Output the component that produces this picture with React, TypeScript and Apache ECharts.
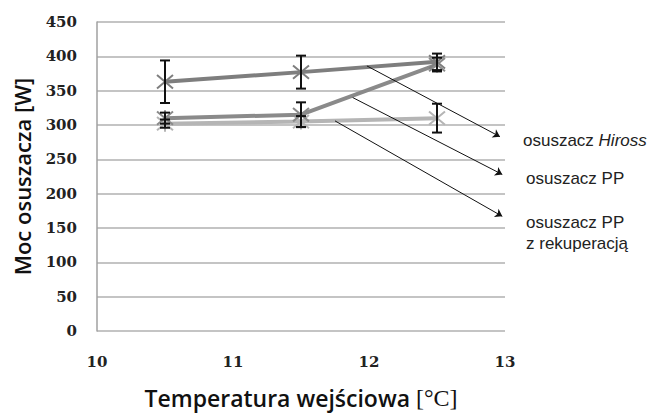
import React, { useEffect, useRef } from "react";
import * as echarts from "echarts";

const xValues = [10.5, 11.5, 12.5];
const hiross = [363, 377, 392];
const hirossErr = [31, 24, 12];
const pp = [310, 315, 388];
const ppErr = [8, 18, 10];
const rekup = [302, 305, 310];
const rekupErr = [6, 8, 21];
const yTicks = [0, 450, 50];
const xTicks = [10, 13, 1];
const arrows = [
  { from: [11.985, 386], to: [12.963, 283] },
  { from: [11.88, 340], to: [12.98, 228] },
  { from: [11.75, 306], to: [12.98, 167] },
];

const starPath = "path://M0,0L10,10M10,0L0,10M5,-1L5,11";

function errSeries(vals: number[], errs: number[], name: string) {
  return {
    type: "custom",
    name,
    z: 5,
    data: xValues.map((x, i) => [x, vals[i] - errs[i], vals[i] + errs[i]]),
    renderItem: (params: any, api: any) => {
      const lo = api.coord([api.value(0), api.value(1)]);
      const hi = api.coord([api.value(0), api.value(2)]);
      const w = 5;
      const st = { stroke: "#111", lineWidth: 2 };
      return {
        type: "group",
        children: [
          { type: "line", shape: { x1: lo[0], y1: lo[1], x2: hi[0], y2: hi[1] }, style: st },
          { type: "line", shape: { x1: lo[0] - w, y1: lo[1], x2: lo[0] + w, y2: lo[1] }, style: st },
          { type: "line", shape: { x1: hi[0] - w, y1: hi[1], x2: hi[0] + w, y2: hi[1] }, style: st },
        ],
      };
    },
  };
}

function lineSeries(vals: number[], color: string, name: string, z: number) {
  return {
    type: "line",
    name,
    z,
    data: xValues.map((x, i) => [x, vals[i]]),
    symbol: starPath,
    symbolSize: 16,
    showSymbol: true,
    lineStyle: { color, width: 4 },
    itemStyle: { color: "transparent", borderColor: color, borderWidth: 2 },
  };
}

export default function App() {
  const ref = useRef<HTMLDivElement>(null);
  useEffect(() => {
    if (!ref.current) return;
    const chart = echarts.init(ref.current, null, { renderer: "svg" });
    chart.setOption({
      animation: false,
      backgroundColor: "#ffffff",
      grid: { left: 97, right: 153, top: 22, bottom: 83 },
      xAxis: {
        type: "value",
        min: xTicks[0],
        max: xTicks[1],
        interval: xTicks[2],
        axisLine: { show: false },
        axisTick: { show: false },
        splitLine: { show: false },
        axisLabel: {
          margin: 23,
          fontFamily: "DejaVu Serif",
          fontWeight: "bold",
          fontSize: 15,
          color: "#222",
        },
        name: "{a|Temperatura wejściowa }{b|[°C]}",
        nameLocation: "middle",
        nameGap: 55,
        nameTextStyle: {
          rich: {
            a: { fontFamily: "Open Sans", fontWeight: 600, fontSize: 23, color: "#111" },
            b: { fontFamily: "Liberation Serif", fontSize: 24, color: "#111" },
          },
        },
      },
      yAxis: {
        type: "value",
        min: yTicks[0],
        max: yTicks[1],
        interval: yTicks[2],
        axisLine: { show: true, lineStyle: { color: "#a0a0a0", width: 1.5 } },
        axisTick: { show: false },
        splitLine: { show: true, lineStyle: { color: "#b0b0b0", width: 1.5 } },
        axisLabel: {
          margin: 20,
          fontFamily: "DejaVu Serif",
          fontWeight: "bold",
          fontSize: 15,
          color: "#222",
        },
        name: "Moc osuszacza [W]",
        nameLocation: "middle",
        nameGap: 64,
        nameTextStyle: { fontFamily: "Open Sans", fontWeight: 600, fontSize: 22, color: "#111" },
      },
      series: [
        lineSeries(rekup, "#b5b5b5", "rekup", 2),
        lineSeries(pp, "#8a8a8a", "pp", 3),
        lineSeries(hiross, "#7e7e7e", "hiross", 4),
        errSeries(hiross, hirossErr, "hirossErr"),
        errSeries(pp, ppErr, "ppErr"),
        errSeries(rekup, rekupErr, "rekupErr"),
        {
          type: "line",
          name: "arrows",
          data: [],
          z: 6,
          markLine: {
            silent: true,
            symbol: ["none", "arrow"],
            symbolSize: 7,
            label: { show: false },
            lineStyle: { color: "#111", width: 1, type: "solid" },
            data: arrows.map((a) => [{ coord: a.from }, { coord: a.to }]),
          },
        },
      ],
      graphic: [
        {
          type: "text",
          left: 523,
          top: 132,
          style: {
            text: "{n|osuszacz }{i|Hiross}",
            rich: {
              n: { fontFamily: "Liberation Sans", fontSize: 17, fill: "#222" },
              i: { fontFamily: "Liberation Sans", fontStyle: "italic", fontSize: 17, fill: "#222" },
            },
          },
        },
        {
          type: "text",
          left: 526,
          top: 170,
          style: { text: "osuszacz PP", font: "17px 'Liberation Sans'", fill: "#222" },
        },
        {
          type: "text",
          left: 526,
          top: 212,
          style: {
            text: "osuszacz PP\nz rekuperacją",
            font: "17px 'Liberation Sans'",
            lineHeight: 21,
            fill: "#222",
          },
        },
      ],
    });
    return () => chart.dispose();
  }, []);
  return <div ref={ref} style={{ width: 658, height: 415, position: "absolute", left: 0, top: 0 }} />;
}
